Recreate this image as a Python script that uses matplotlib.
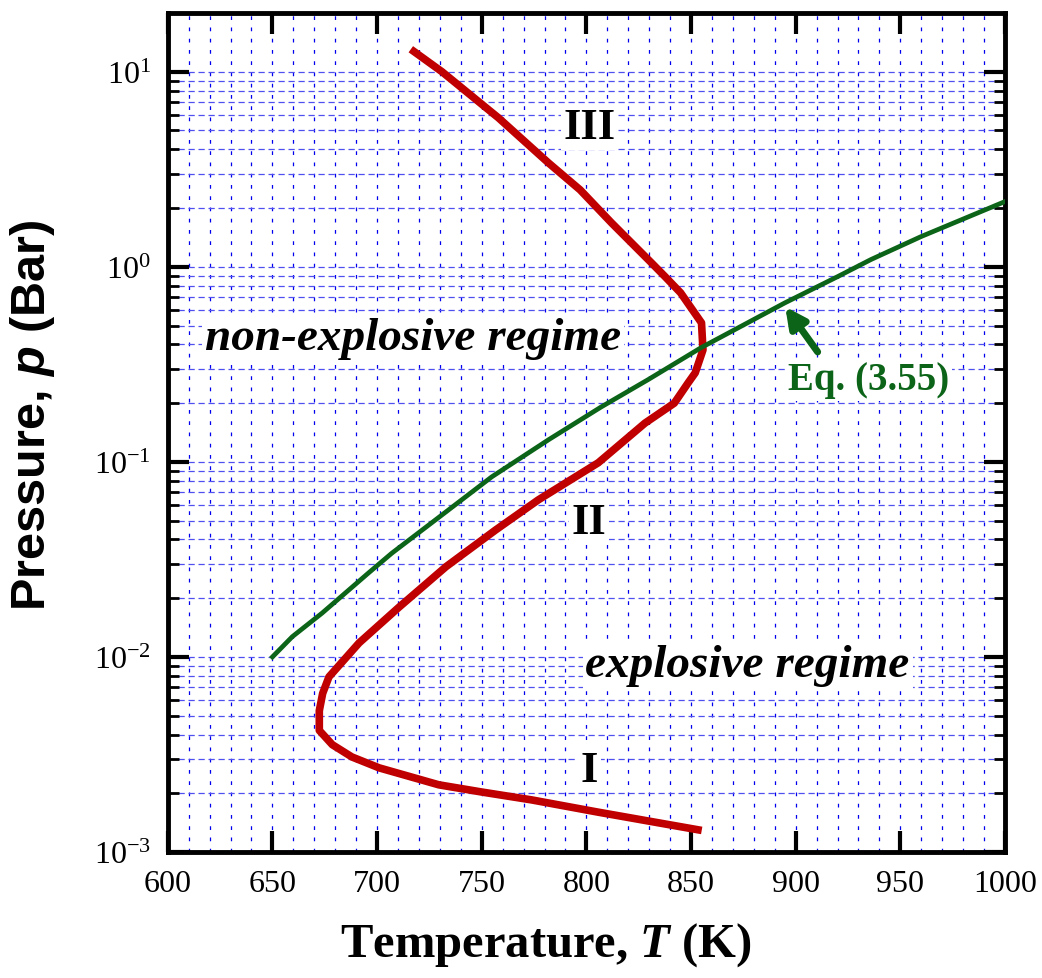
import math
import matplotlib
matplotlib.use("Agg")
import matplotlib.pyplot as plt
from matplotlib.ticker import MultipleLocator, LogLocator, FuncFormatter, NullFormatter

plt.rcParams['font.family'] = 'Liberation Serif'
plt.rcParams['mathtext.fontset'] = 'custom'
plt.rcParams['mathtext.rm'] = 'Liberation Serif'
plt.rcParams['mathtext.bfit'] = 'Liberation Serif:italic:bold'
plt.rcParams['mathtext.sf'] = 'Liberation Sans:italic:bold'

# red curve: explosion limits (T in K, p in bar)
red_T = [717.6, 731, 758, 782, 797, 812, 831, 837.6, 845, 855, 855.7, 852, 848.6,
         842, 828, 805.7, 777, 756.7, 732.9, 710.5, 691.4, 677, 674, 672.4, 672.4,
         678.6, 688, 701, 729.5, 750, 773.8, 805.7, 853.3]
red_p = [12.7, 10.0, 5.8, 3.4, 2.48, 1.68, 1.05, 0.89, 0.736, 0.516, 0.375, 0.286, 0.254,
         0.20, 0.158, 0.099, 0.0638, 0.0448, 0.029, 0.018, 0.0118, 0.0079, 0.0065, 0.0053, 0.0042,
         0.00355, 0.00307, 0.0027, 0.00221, 0.00203, 0.00185, 0.0016, 0.0013]

# green curve: Eq. (3.55)
green_T = [650, 659.5, 673.8, 696, 707, 728, 754.8, 782, 807, 829.5, 854.8, 894.8,
           920, 936, 960, 1000]
green_p = [0.01, 0.0127, 0.0168, 0.027, 0.034, 0.0505, 0.0838, 0.13, 0.191, 0.264,
           0.385, 0.653, 0.89, 1.09, 1.43, 2.16]

red = '#c00000'
green = '#0b6418'

fig = plt.figure(figsize=(10.42, 9.79), dpi=100)
ax = fig.add_axes([0.161, 0.1287, 0.8035, 0.857])

ax.set_yscale('log')
ax.set_xlim(600, 1000)
ax.set_ylim(1e-3, 20)

ax.xaxis.set_major_locator(MultipleLocator(50))
ax.xaxis.set_minor_locator(MultipleLocator(10))
ax.yaxis.set_major_locator(LogLocator(base=10, numticks=10))
ax.yaxis.set_minor_locator(LogLocator(base=10, subs=range(2, 10), numticks=20))
ax.yaxis.set_minor_formatter(NullFormatter())


def log_fmt(v, pos):
    e = int(round(math.log10(v)))
    return r'$\mathregular{10^{%d}}$' % e


ax.yaxis.set_major_formatter(FuncFormatter(log_fmt))

ax.grid(True, which='both', axis='x', color='#0000ee', lw=0.9, ls=(0, (3, 6)))
ax.grid(True, which='both', axis='y', color='#5050f0', lw=0.9, ls=(0, (5, 3)))
ax.set_axisbelow(True)

ax.tick_params(which='major', direction='in', length=15, width=3, top=True, right=True,
               labelsize=23, pad=12)
ax.tick_params(axis='y', which='minor', direction='in', length=8, width=2, right=True)
ax.tick_params(axis='x', which='minor', length=0)
for s in ax.spines.values():
    s.set_linewidth(3.5)

ax.plot(red_T, red_p, color=red, lw=5.5, solid_joinstyle='round', zorder=3)
ax.plot(green_T, green_p, color=green, lw=3.4, zorder=4)

box = dict(facecolor='white', edgecolor='none', pad=2)
ax.text(801.4, 5.2, 'III', fontsize=32, fontweight='bold', ha='center', va='center', bbox=box, zorder=5)
ax.text(801.4, 0.0492, 'II', fontsize=32, fontweight='bold', ha='center', va='center', bbox=box, zorder=5)
ax.text(801.4, 0.00264, 'I', fontsize=32, fontweight='bold', ha='center', va='center', bbox=box, zorder=5)
ax.text(717, 0.43, 'non-explosive regime', fontsize=34, fontweight='bold', style='italic',
        ha='center', va='center', bbox=box, zorder=5)
ax.text(877, 0.0091, 'explosive regime', fontsize=34, fontweight='bold', style='italic',
        ha='center', va='center', bbox=box, zorder=5)

ax.annotate('', xy=(895, 0.624), xytext=(910.5, 0.366),
            arrowprops=dict(arrowstyle='-|>,head_width=0.6,head_length=1.2', lw=5,
                            color=green, shrinkA=0, shrinkB=0), zorder=6)
ax.text(935, 0.264, 'Eq. (3.55)', fontsize=28, fontweight='bold', color=green,
        ha='center', va='center', bbox=box, zorder=5)

fig.text(546 / 1042, 1 - 945 / 979, r'Temperature, $\mathbfit{T}$ (K)', fontsize=35,
         fontweight='bold', ha='center', va='center')
fig.text(33 / 1042, 1 - 415 / 979, r'Pressure, $\mathsf{p}$ (Bar)', fontsize=35,
         fontweight='bold', family='Liberation Sans', rotation=90, ha='center', va='center')

fig.savefig('out.png', dpi=100)
